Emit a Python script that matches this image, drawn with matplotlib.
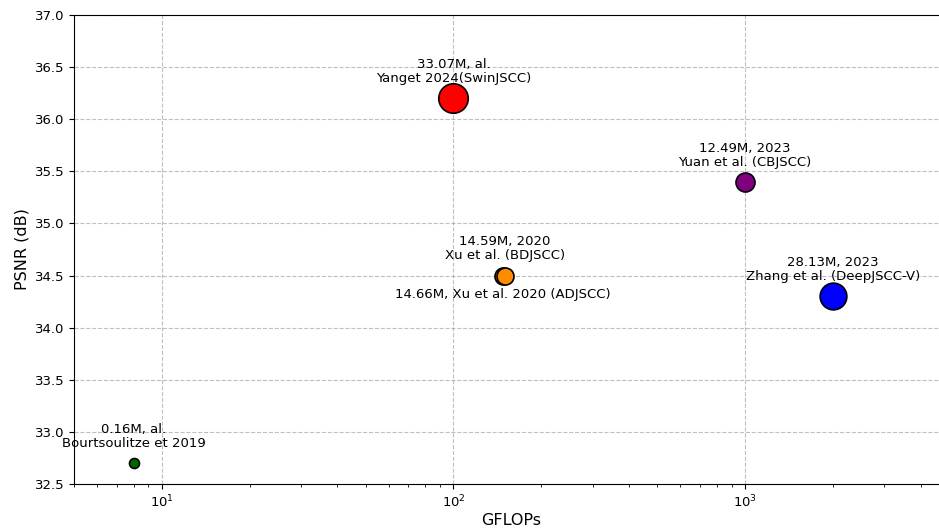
import matplotlib
matplotlib.use("Agg")
import matplotlib.pyplot as plt

# Data
gflops = [8, 100, 1000, 148, 150, 2000]
psnr = [32.7, 36.2, 35.4, 34.5, 34.5, 34.3]
params_m = [0.16, 33.07, 12.49, 14.66, 14.59, 28.13]
labels = [
    "0.16M, al.\nBourtsoulitze et 2019",
    "33.07M, al.\nYanget 2024(SwinJSCC)",
    "12.49M, 2023\nYuan et al. (CBJSCC)",
    "14.66M, Xu et al. 2020 (ADJSCC)",
    "14.59M, 2020\nXu et al. (BDJSCC)",
    "28.13M, 2023\nZhang et al. (DeepJSCC-V)",
]
colors = ["darkgreen", "red", "purple", "darkorange", "darkorange", "blue"]
label_below = [False, False, False, True, False, False]

# style: marker areas (points^2)
marker_sizes = [52, 450, 187, 150, 150, 370]

fig = plt.figure(figsize=(9.39, 5.29), dpi=100)
ax = fig.add_axes([74 / 939, 45 / 529, 875 / 939, 469 / 529])

for x, y, s, c in zip(gflops, psnr, marker_sizes, colors):
    ax.scatter([x], [y], s=s, c=c, edgecolors="black", linewidths=1.2, zorder=3)

for x, y, lab, below in zip(gflops, psnr, labels, label_below):
    if below:
        ax.annotate(lab, (x, y), xytext=(0, -9), textcoords="offset points",
                    ha="center", va="top", fontsize=9.5)
    else:
        ax.annotate(lab, (x, y), xytext=(0, 9.5), textcoords="offset points",
                    ha="center", va="bottom", fontsize=9.5, linespacing=1.1)

ax.set_xscale("log")
ax.set_xlim(5, 5000)
ax.set_ylim(32.5, 37.0)
ax.set_yticks([32.5, 33.0, 33.5, 34.0, 34.5, 35.0, 35.5, 36.0, 36.5, 37.0])
ax.tick_params(labelsize=9.5)
ax.grid(True, which="major", linestyle="--", color="gray", alpha=0.5)
ax.set_axisbelow(True)
ax.set_xlabel("GFLOPs", fontsize=11.5, labelpad=2)
ax.set_ylabel("PSNR (dB)", fontsize=11.5)

fig.savefig("out.png", dpi=100)
